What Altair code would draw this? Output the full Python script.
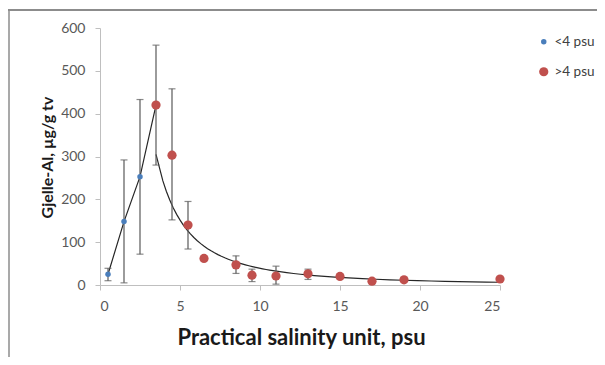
import altair as alt
import pandas as pd

# ---- data ----
series_names = ["<4 psu", ">4 psu"]
series_colors = ["#4a7ebb", "#c0504d"]

low_x = [0.5, 1.5, 2.5]
low_y = [25, 148, 253]

high_x = [3.5, 4.5, 5.5, 6.5, 8.5, 9.5, 11, 13, 15, 17, 19, 25]
high_y = [420, 303, 140, 62, 47, 23, 21, 26, 20, 9, 12, 14]

err_x = [0.5, 1.5, 2.5, 3.5, 4.5, 5.5, 8.5, 9.5, 11, 13, 19]
err_lo = [10, 5, 72, 280, 152, 84, 27, 8, 2, 13, 9]
err_hi = [39, 292, 433, 560, 458, 195, 68, 37, 44, 37, 16]

x_ticks = [0, 5, 10, 15, 20, 25]
y_ticks = [0, 100, 200, 300, 400, 500, 600]

x_title = "Practical salinity unit, psu"
y_title = "Gjelle-Al, µg/g tv"

# ---- tables ----
pts = pd.DataFrame({
    "x": low_x + high_x,
    "y": low_y + high_y,
    "series": [series_names[0]] * len(low_x) + [series_names[1]] * len(high_x),
})
errs = pd.DataFrame({"x": err_x, "lo": err_lo, "hi": err_hi})

font = "Lato"
xscale = alt.Scale(domain=[0, 25], nice=False)
yscale = alt.Scale(domain=[0, 600], nice=False)

X = alt.X("x:Q", scale=xscale,
          axis=alt.Axis(values=x_ticks, title=x_title, titleX=201, titleY=52,
                        titleBaseline="middle", titleFontSize=22, labelPadding=9))
Y = alt.Y("y:Q", scale=yscale,
          axis=alt.Axis(values=y_ticks, title=y_title, titleX=-53, titleY=129,
                        titleAngle=-90, titleBaseline="middle", titleAlign="center",
                        titleFontSize=16, labelPadding=10))

base = alt.Chart(pts)

polyline = base.transform_filter("datum.x <= 3.5").mark_line(
    color="#262626", strokeWidth=1.2).encode(x=X, y=Y)

power = base.transform_filter(alt.datum.series == series_names[1]).transform_regression(
    "x", "y", method="pow").mark_line(color="#262626", strokeWidth=1.2).encode(
    x=alt.X("x:Q", scale=xscale), y=alt.Y("y:Q", scale=yscale))

ebase = alt.Chart(errs)
erule = ebase.mark_rule(color="#595959", strokeWidth=1.2).encode(
    x=alt.X("x:Q", scale=xscale), y=alt.Y("lo:Q", scale=yscale), y2="hi:Q")
ecap_lo = ebase.mark_tick(color="#595959", orient="horizontal", size=7, thickness=1.2).encode(
    x=alt.X("x:Q", scale=xscale), y=alt.Y("lo:Q", scale=yscale))
ecap_hi = ebase.mark_tick(color="#595959", orient="horizontal", size=7, thickness=1.2).encode(
    x=alt.X("x:Q", scale=xscale), y=alt.Y("hi:Q", scale=yscale))

leg = alt.Legend(title=None, orient="none", legendX=437, legendY=7,
                 labelFont=font, labelFontSize=13.5, labelColor="#404040",
                 rowPadding=15, labelOffset=4)
points = base.mark_circle(opacity=1).encode(
    x=alt.X("x:Q", scale=xscale),
    y=alt.Y("y:Q", scale=yscale),
    color=alt.Color("series:N", scale=alt.Scale(domain=series_names, range=series_colors),
                    legend=leg),
    size=alt.Size("series:N", scale=alt.Scale(domain=series_names, range=[30, 85]),
                  legend=leg),
)

frame_df = pd.DataFrame({"k": [0]})
frame_top = alt.Chart(frame_df).mark_rule(color="#8c8c8c", strokeWidth=2).encode(
    x=alt.value(-92), x2=alt.value(497), y=alt.value(-18))
frame_band = alt.Chart(frame_df).mark_rect(color="#8c8c8c", opacity=1).encode(
    x=alt.value(-92), x2=alt.value(497), y=alt.value(-19), y2=alt.value(-17))
frame_left = alt.Chart(frame_df).mark_rule(color="#8c8c8c", strokeWidth=1.5).encode(
    x=alt.value(-91), y=alt.value(-19), y2=alt.value(329))

chart = alt.layer(
    frame_left, polyline, power, erule, ecap_lo, ecap_hi, points, frame_top, frame_band
).properties(
    width=400, height=257,
    autosize=alt.AutoSizeParams(type="none"),
    padding={"left": 92, "top": 20, "right": 97, "bottom": 72},
    background="white",
).configure_view(stroke=None).configure_axis(
    grid=False, domainColor="#bfbfbf", tickColor="#bfbfbf", tickSize=5,
    labelFont=font, labelFontSize=14, labelColor="#595959",
    titleFont=font, titleFontWeight="bold", titleColor="#1a1a1a",
)

chart.save("out.html", embed_options={"renderer": "svg", "actions": False})
